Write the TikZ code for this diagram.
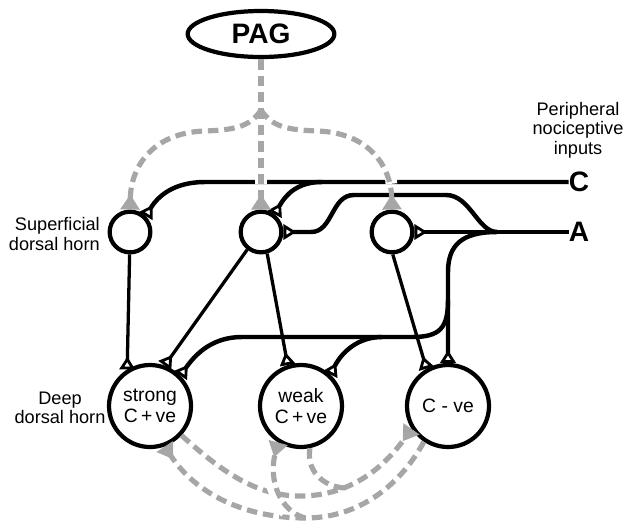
\documentclass[tikz,border=0pt]{standalone}
\usepackage{fontspec}
\setmainfont{Liberation Sans}
\usetikzlibrary{arrows.meta,shapes.geometric}
\definecolor{pagray}{RGB}{166,166,166}
\begin{document}
\begin{tikzpicture}[x=0.03cm,y=-0.03cm,
 neuron/.style={circle, draw, line width=3.6pt, inner sep=0pt},
 smallc/.style={neuron, minimum size=1.22cm},
 bigc/.style={neuron, minimum size=2.46cm, align=center, font=\fontsize{16.5}{17.5}\selectfont},
 pagnode/.style={ellipse, draw, line width=3.6pt, minimum width=4.4cm, minimum height=1.38cm, font=\fontsize{24}{26}\selectfont\bfseries, inner sep=0pt},
 lbl/.style={font=\fontsize{15.5}{16.5}\selectfont, inner sep=0pt},
 inlbl/.style={font=\fontsize{24}{25}\selectfont\bfseries, inner sep=0pt},
 syn/.style={-{Triangle[open,reversed,length=11pt,width=13pt,line width=2.4pt]}},
 fiber/.style={line width=3.8pt, syn},
 proj/.style={line width=2.8pt, syn},
 dashline/.style={draw=pagray, line width=4.4pt, dash pattern=on 9pt off 5pt},
 desc/.style={dashline, -{Triangle[reversed,length=13pt,width=16pt,fill=pagray]}},
 gapped/.style={preaction={draw=white, line width=10pt, solid, arrows=-, shorten >=22pt, shorten <=10pt}},
 gappedb/.style={preaction={draw=white, line width=9pt, solid, arrows=-, shorten >=28pt, shorten <=18pt}},
]
\useasboundingbox (0,0) rectangle (627,522);

\node[pagnode] (pag) at (261,34) {PAG};
\node[smallc] (sl) at (130,232) {};
\node[smallc] (sm) at (261,232) {};
\node[smallc] (sr) at (392,232) {};
\node[bigc] (ds) at (150,406) {strong\\C\,+\,ve};
\node[bigc] (dw) at (301,406) {weak\\C\,+\,ve};
\node[bigc] (dc) at (448,406) {C - ve};

\node[lbl, align=right, anchor=east] (tsup) at (100,234) {Superficial\\dorsal horn};
\node[lbl, align=center] (tdeep) at (60,408) {Deep\\dorsal horn};
\node[lbl, align=center] (tper) at (578,130) {Peripheral\\nociceptive\\inputs};
\node[inlbl] (tc) at (579,182) {C};
\node[inlbl] (ta) at (579,232) {A};

\coordinate (cb) at (322,182);
\coordinate (ja) at (497,232);
\coordinate (jl) at (448,300);
\coordinate (jw) at (382,337);
\coordinate (j1) at (261,110);
\coordinate (m1) at (344,488);
\coordinate (m2) at (305,518);

% primary afferents
\draw[fiber] (tc.west) -- (205,182) .. controls (174,182) and (158,196) .. (sl.45);
\draw[fiber] (cb) .. controls (298,182) and (286,194) .. (sm.52);
\draw[fiber] (ta.west) -- (sr.east);
\draw[fiber] (ja) .. controls (478,232) and (470,195) .. (446,195) -- (354,195) .. controls (331,195) and (333,232) .. (311,232) -- (sm.east);
\draw[fiber] (ja) .. controls (462,232) and (448,245) .. (448,272) -- (dc.north);
\draw[fiber] (jl) .. controls (448,328) and (440,337) .. (412,337) -- (242,337) .. controls (214,337) and (197,352) .. (ds.45);
\draw[fiber] (jw) .. controls (358,337) and (342,352) .. (dw.47);

% superficial to deep projections
\draw[proj] (sl.-91) -- (ds.122);
\draw[proj] (sm.-128) -- (ds.70);
\draw[proj] (sm.-74) -- (dw.108);
\draw[proj] (sr.-88) -- (dc.120);

% descending control from PAG
\draw[desc, gapped] (pag.south) -- (sm.north);
\draw[desc] (j1) .. controls (250,127) and (234,130) .. (204,131) .. controls (154,133) and (131,165) .. (sl.north);
\draw[desc, gapped] (j1) .. controls (272,127) and (288,130) .. (318,131) .. controls (368,133) and (391,165) .. (sr.north);

% interactions among deep neurons
\draw[desc] (ds.-43) .. controls (220,470) and (255,496) .. (300,496) .. controls (355,496) and (388,462) .. (dc.-148);
\draw[dashline] (dw.-78) .. controls (306,470) and (322,486) .. (m1);
\draw[desc] (dc.-124) .. controls (402,482) and (362,518) .. (305,518) .. controls (245,518) and (196,494) .. (ds.-70);
\draw[desc, gappedb] (m2) .. controls (280,511) and (268,480) .. (dw.-122);
\end{tikzpicture}
\end{document}
